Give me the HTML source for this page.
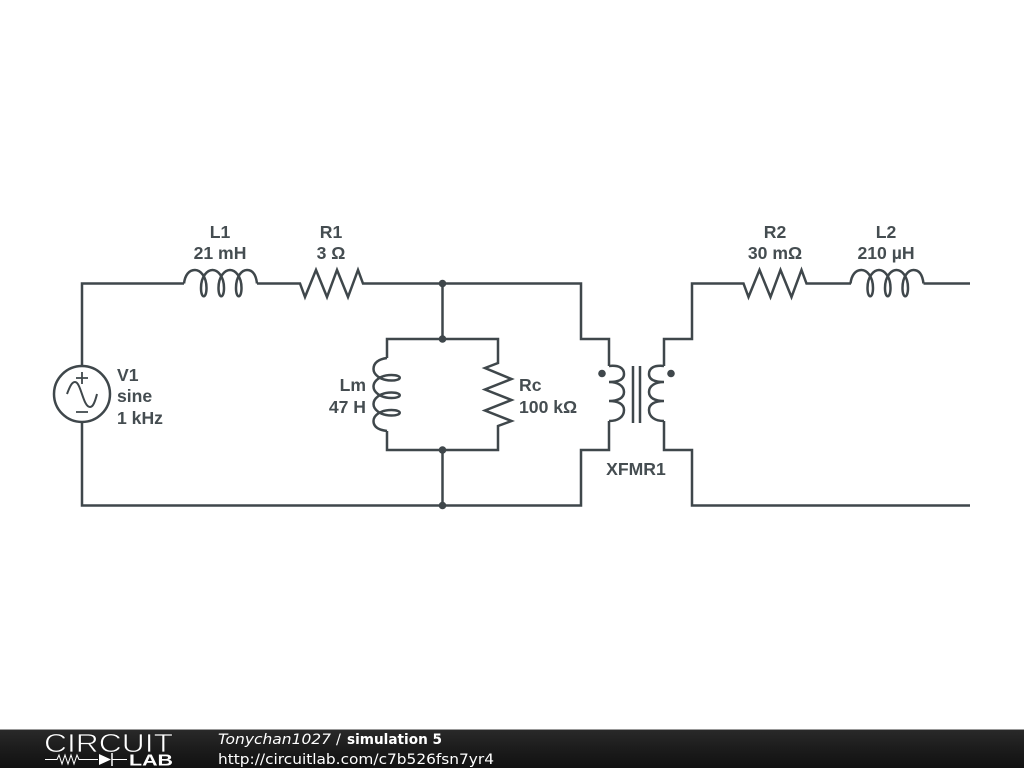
<!DOCTYPE html>
<html><head><meta charset="utf-8"><style>
html,body{margin:0;padding:0;background:#fff;width:1024px;height:768px;overflow:hidden}
svg{display:block}
.w{fill:none;stroke:#3f474b;stroke-width:2.5;stroke-linejoin:miter}
.t{font:bold 17.6px "Liberation Sans",sans-serif;fill:#454d51}
.f{font-family:"DejaVu Sans",sans-serif;font-size:14.5px;fill:#fff}
</style></head><body>
<svg width="1024" height="768" viewBox="0 0 1024 768" xmlns="http://www.w3.org/2000/svg">
<defs>
<linearGradient id="bar" x1="0" y1="0" x2="0" y2="1"><stop offset="0" stop-color="#2a2a2a"/><stop offset="0.5" stop-color="#1c1c1c"/><stop offset="1" stop-color="#111"/></linearGradient>
<path id="coil" d="M184 283.5C185 275 189 270 195 270C200 270 206.500 276 206.500 288C206.500 299 201 299 201 288C201 276 207.500 270 212.500 270C217.500 270 224 276 224 288C224 299 218.500 299 218.500 288C218.500 276 225 270 230 270C235 270 241.500 276 241.500 288C241.500 299 236 299 236 288C236 276 242 270 247 270C253 270 256 275 257 283.500"/>
</defs>
<g class="w">
<path d="M82 366V283.500H184"/>
<use href="#coil"/>
<path d="M257 283.500H300L305 297 316 270 327 297 337 270 348 297 358 270 363 283.500H581V339H609V366"/>
<path d="M442.500 283.500V339"/>
<path d="M442.500 450V505.500"/>
<path d="M82 422V505.500H581V450H609V421"/>
<path d="M387 358V339H498V363L485 368 511.500 379 485 389.500 511.500 400 485 410.500 511.500 421 498 426V450H387V431"/>
<use href="#coil" transform="matrix(0 1 1 0 103.500 174)"/>
<circle cx="82" cy="394" r="28"/>
<path d="M82 372V384M76 378H88M76 412H88" stroke-width="1.800"/>
<path d="M67 394C70 386 72 382 75 382C81 382 83 407 90 407C93 407 95 402 97 394" stroke-width="2"/>
<path d="M609 366C619 365 624 368 624 374C624 380 618 382 609 382C618 382 624 386 624 392C624 398 618 401 609 401C618 401 624 404 624 410C624 417 618 421 609 421"/>
<path d="M664 366C654 365 649 368 649 374C649 380 655 382 664 382C655 382 649 386 649 392C649 398 655 401 664 401C655 401 649 404 649 410C649 417 655 421 664 421"/>
<path d="M633 366V423M640 366V423"/>
<path d="M664 366V339H692V283.500H743.500L748.500 297 759.500 270 770.500 297 780.500 270 791.500 297 801.500 270 806.500 283.500H851"/>
<use href="#coil" transform="translate(666.500 0)"/>
<path d="M923.500 283.500H970"/>
<path d="M664 421V450H692V505.500H970"/>
</g>
<g fill="#3f474b">
<circle cx="442.500" cy="283.500" r="3.800"/><circle cx="442.500" cy="339" r="3.800"/>
<circle cx="442.500" cy="450" r="3.800"/><circle cx="442.500" cy="505.500" r="3.800"/>
<circle cx="602" cy="373.500" r="3.800"/><circle cx="671" cy="373.500" r="3.800"/>
</g>
<g class="t" text-anchor="middle">
<text x="220" y="238">L1</text><text x="220" y="259">21 mH</text>
<text x="331" y="238">R1</text><text x="331" y="259">3 Ω</text>
<text x="775" y="238">R2</text><text x="775" y="259">30 mΩ</text>
<text x="886" y="238">L2</text><text x="886" y="259">210 µH</text>
<text x="636" y="475">XFMR1</text>
</g>
<g class="t">
<text x="117" y="381">V1</text><text x="117" y="402">sine</text><text x="117" y="424">1 kHz</text>
<text x="519" y="391">Rc</text><text x="519" y="413">100 kΩ</text>
<text x="366" y="391" text-anchor="end">Lm</text><text x="366" y="413" text-anchor="end">47 H</text>
</g>
<rect x="0" y="729" width="1024" height="39" fill="url(#bar)"/>
<rect x="0" y="729" width="1024" height="1" fill="#999"/>
<text x="44" y="752" font-family="Liberation Sans,sans-serif" font-size="26" fill="#fff" stroke="#1e1e1e" stroke-width="0.700" textLength="129" lengthAdjust="spacingAndGlyphs">CIRCUIT</text>
<path d="M45 759.500H57L59 755 62 764 65 755 68 764 71 755 74 764 77 755 79 759.500H98M112 759.500H127" fill="none" stroke="#fff" stroke-width="1"/>
<path d="M99 754L111 759.500 99 765Z" fill="#fff"/>
<path d="M112 753V766" stroke="#fff" stroke-width="1.500"/>
<text x="129" y="765.500" font-family="Liberation Sans,sans-serif" font-weight="bold" font-size="16" fill="#fff" textLength="44" lengthAdjust="spacingAndGlyphs">LAB</text>
<text class="f" x="218" y="744" style="font-style:italic" textLength="113" lengthAdjust="spacingAndGlyphs">Tonychan1027</text>
<text class="f" x="336" y="744">/</text>
<text class="f" x="347" y="744" style="font-weight:bold" textLength="95" lengthAdjust="spacingAndGlyphs">simulation 5</text>
<text class="f" x="218" y="764" textLength="276" lengthAdjust="spacingAndGlyphs">http://circuitlab.com/c7b526fsn7yr4</text>
</svg>
</body></html>
